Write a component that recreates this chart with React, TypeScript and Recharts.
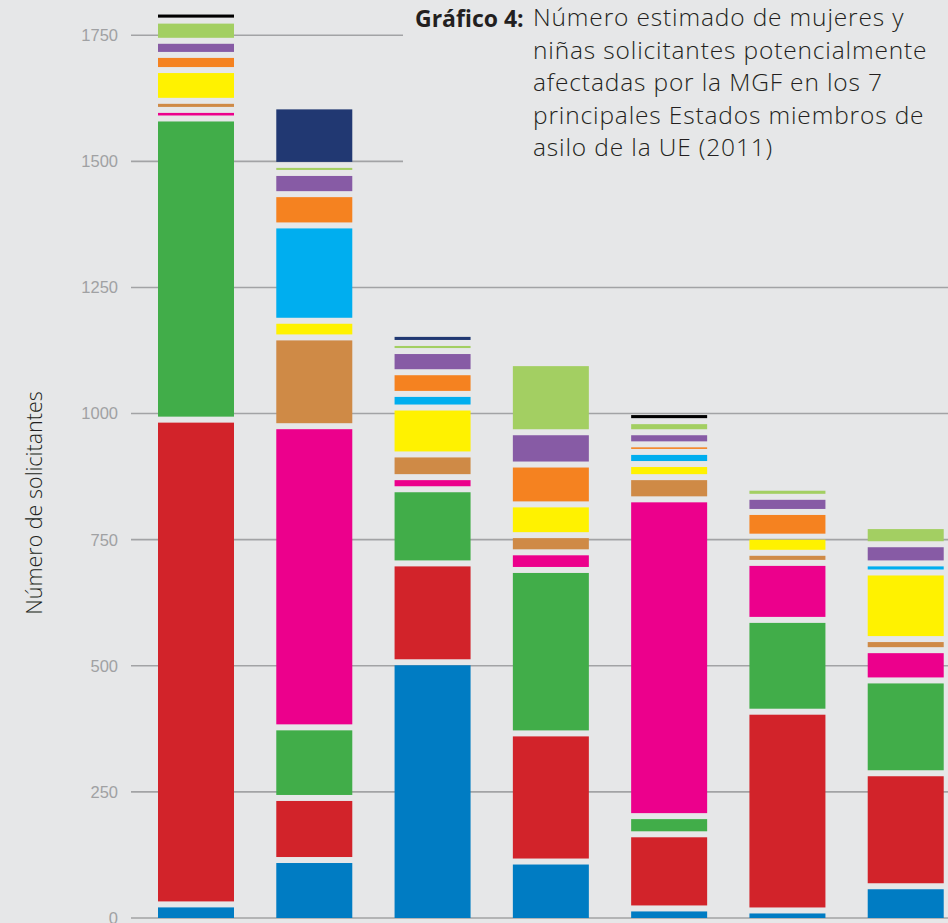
import React from 'react';
import { BarChart, Bar, XAxis, YAxis, CartesianGrid } from 'recharts';

const categories = ['Estado 1', 'Estado 2', 'Estado 3', 'Estado 4', 'Estado 5', 'Estado 6', 'Estado 7'];

const blueVals = [21, 109, 501, 106, 13, 9, 57];
const redVals = [961, 123, 196, 254, 147, 394, 224];
const greenVals = [597, 140, 147, 324, 36, 182, 184];
const magentaVals = [17, 597, 24, 35, 628, 113, 60];
const tanVals = [18, 176, 45, 34, 44, 20, 22];
const yellowVals = [61, 33, 93, 61, 26, 32, 132];
const cyanVals = [0, 189, 27, 0, 24, 0, 18];
const orangeVals = [30, 62, 43, 79, 15, 49, 0];
const purpleVals = [28, 42, 42, 64, 24, 30, 38];
const lightGreenVals = [40, 16, 16, 137, 22, 18, 36];
const navyVals = [0, 116, 18, 0, 0, 0, 0];
const blackVals = [18, 0, 0, 0, 18, 0, 0];

const yTicks = [0, 250, 500, 750, 1000, 1250, 1500, 1750];

const titleBold = 'Gráfico 4:';
const titleLines = [
  'Número estimado de mujeres y',
  'niñas solicitantes potencialmente',
  'afectadas por la MGF en los 7',
  'principales Estados miembros de',
  'asilo de la UE (2011)',
];
const yLabel = 'Número de solicitantes';

const series = [
  { key: 'blue', vals: blueVals, color: '#007cc3' },
  { key: 'red', vals: redVals, color: '#d2232a' },
  { key: 'green', vals: greenVals, color: '#41ad49' },
  { key: 'magenta', vals: magentaVals, color: '#ec008c' },
  { key: 'tan', vals: tanVals, color: '#cf8a46' },
  { key: 'yellow', vals: yellowVals, color: '#fff200' },
  { key: 'cyan', vals: cyanVals, color: '#00aeef' },
  { key: 'orange', vals: orangeVals, color: '#f58220' },
  { key: 'purple', vals: purpleVals, color: '#875ba5' },
  { key: 'lightGreen', vals: lightGreenVals, color: '#a3cf62' },
  { key: 'navy', vals: navyVals, color: '#213872' },
  { key: 'black', vals: blackVals, color: '#000000' },
];

const data = categories.map((name, i) => {
  const row: Record<string, any> = { name };
  series.forEach((s) => {
    row[s.key] = s.vals[i];
  });
  return row;
});

const BG = '#e6e7e8';
const GAP = 6;

const makeShape = (gap: number) => (props: any) => {
  const { x, y, width, height, fill } = props;
  const h = (height || 0) - gap;
  if (!(h > 0)) return <g />;
  return <rect x={x} y={y} width={width} height={h} fill={fill} />;
};

export default function App() {
  return (
    <div
      style={{
        position: 'absolute',
        left: 0,
        top: 0,
        width: 948,
        height: 923,
        background: BG,
        overflow: 'hidden',
      }}
    >
      <BarChart
        width={971}
        height={923}
        data={data}
        margin={{ top: 10, right: 0, bottom: 5, left: 0 }}
        barSize={76}
      >
        <CartesianGrid
          vertical={false}
          horizontalValues={yTicks}
          stroke="#a2a3a5"
          strokeWidth={1.6}
        />
        <XAxis dataKey="name" hide padding={{ left: 6, right: 6 }} />
        <YAxis
          width={131}
          domain={[0, 1800]}
          ticks={yTicks}
          interval={0}
          axisLine={false}
          tickLine={false}
          tickSize={0}
          tickMargin={13}
          tick={{ fill: '#a0a1a3', fontSize: 16.5, fontFamily: 'Liberation Sans' }}
        />
        {series.map((s, idx) => (
          <Bar
            key={s.key}
            dataKey={s.key}
            stackId="a"
            fill={s.color}
            isAnimationActive={false}
            shape={makeShape(idx === 0 ? 0 : GAP)}
          />
        ))}
      </BarChart>
      <div
        style={{
          position: 'absolute',
          left: 33,
          top: 503,
          transform: 'translate(-50%, -50%) rotate(-90deg)',
          whiteSpace: 'nowrap',
          fontFamily: 'Open Sans',
          fontWeight: 300,
          fontSize: 21.5,
          color: '#231f20',
        }}
      >
        {yLabel}
      </div>
      <div
        style={{
          position: 'absolute',
          left: 403,
          top: 0,
          width: 545,
          height: 172,
          background: BG,
          color: '#231f20',
          fontFamily: 'Open Sans',
          lineHeight: '32.5px',
        }}
      >
        <div
          style={{
            position: 'absolute',
            left: 12,
            top: 2,
            fontWeight: 700,
            fontSize: 23,
            whiteSpace: 'nowrap',
          }}
        >
          {titleBold}
        </div>
        <div
          style={{
            position: 'absolute',
            left: 130,
            top: 1,
            fontWeight: 300,
            fontSize: 24.5,
            letterSpacing: 0.85,
            whiteSpace: 'nowrap',
          }}
        >
          {titleLines.map((l) => (
            <div key={l}>{l}</div>
          ))}
        </div>
      </div>
    </div>
  );
}
